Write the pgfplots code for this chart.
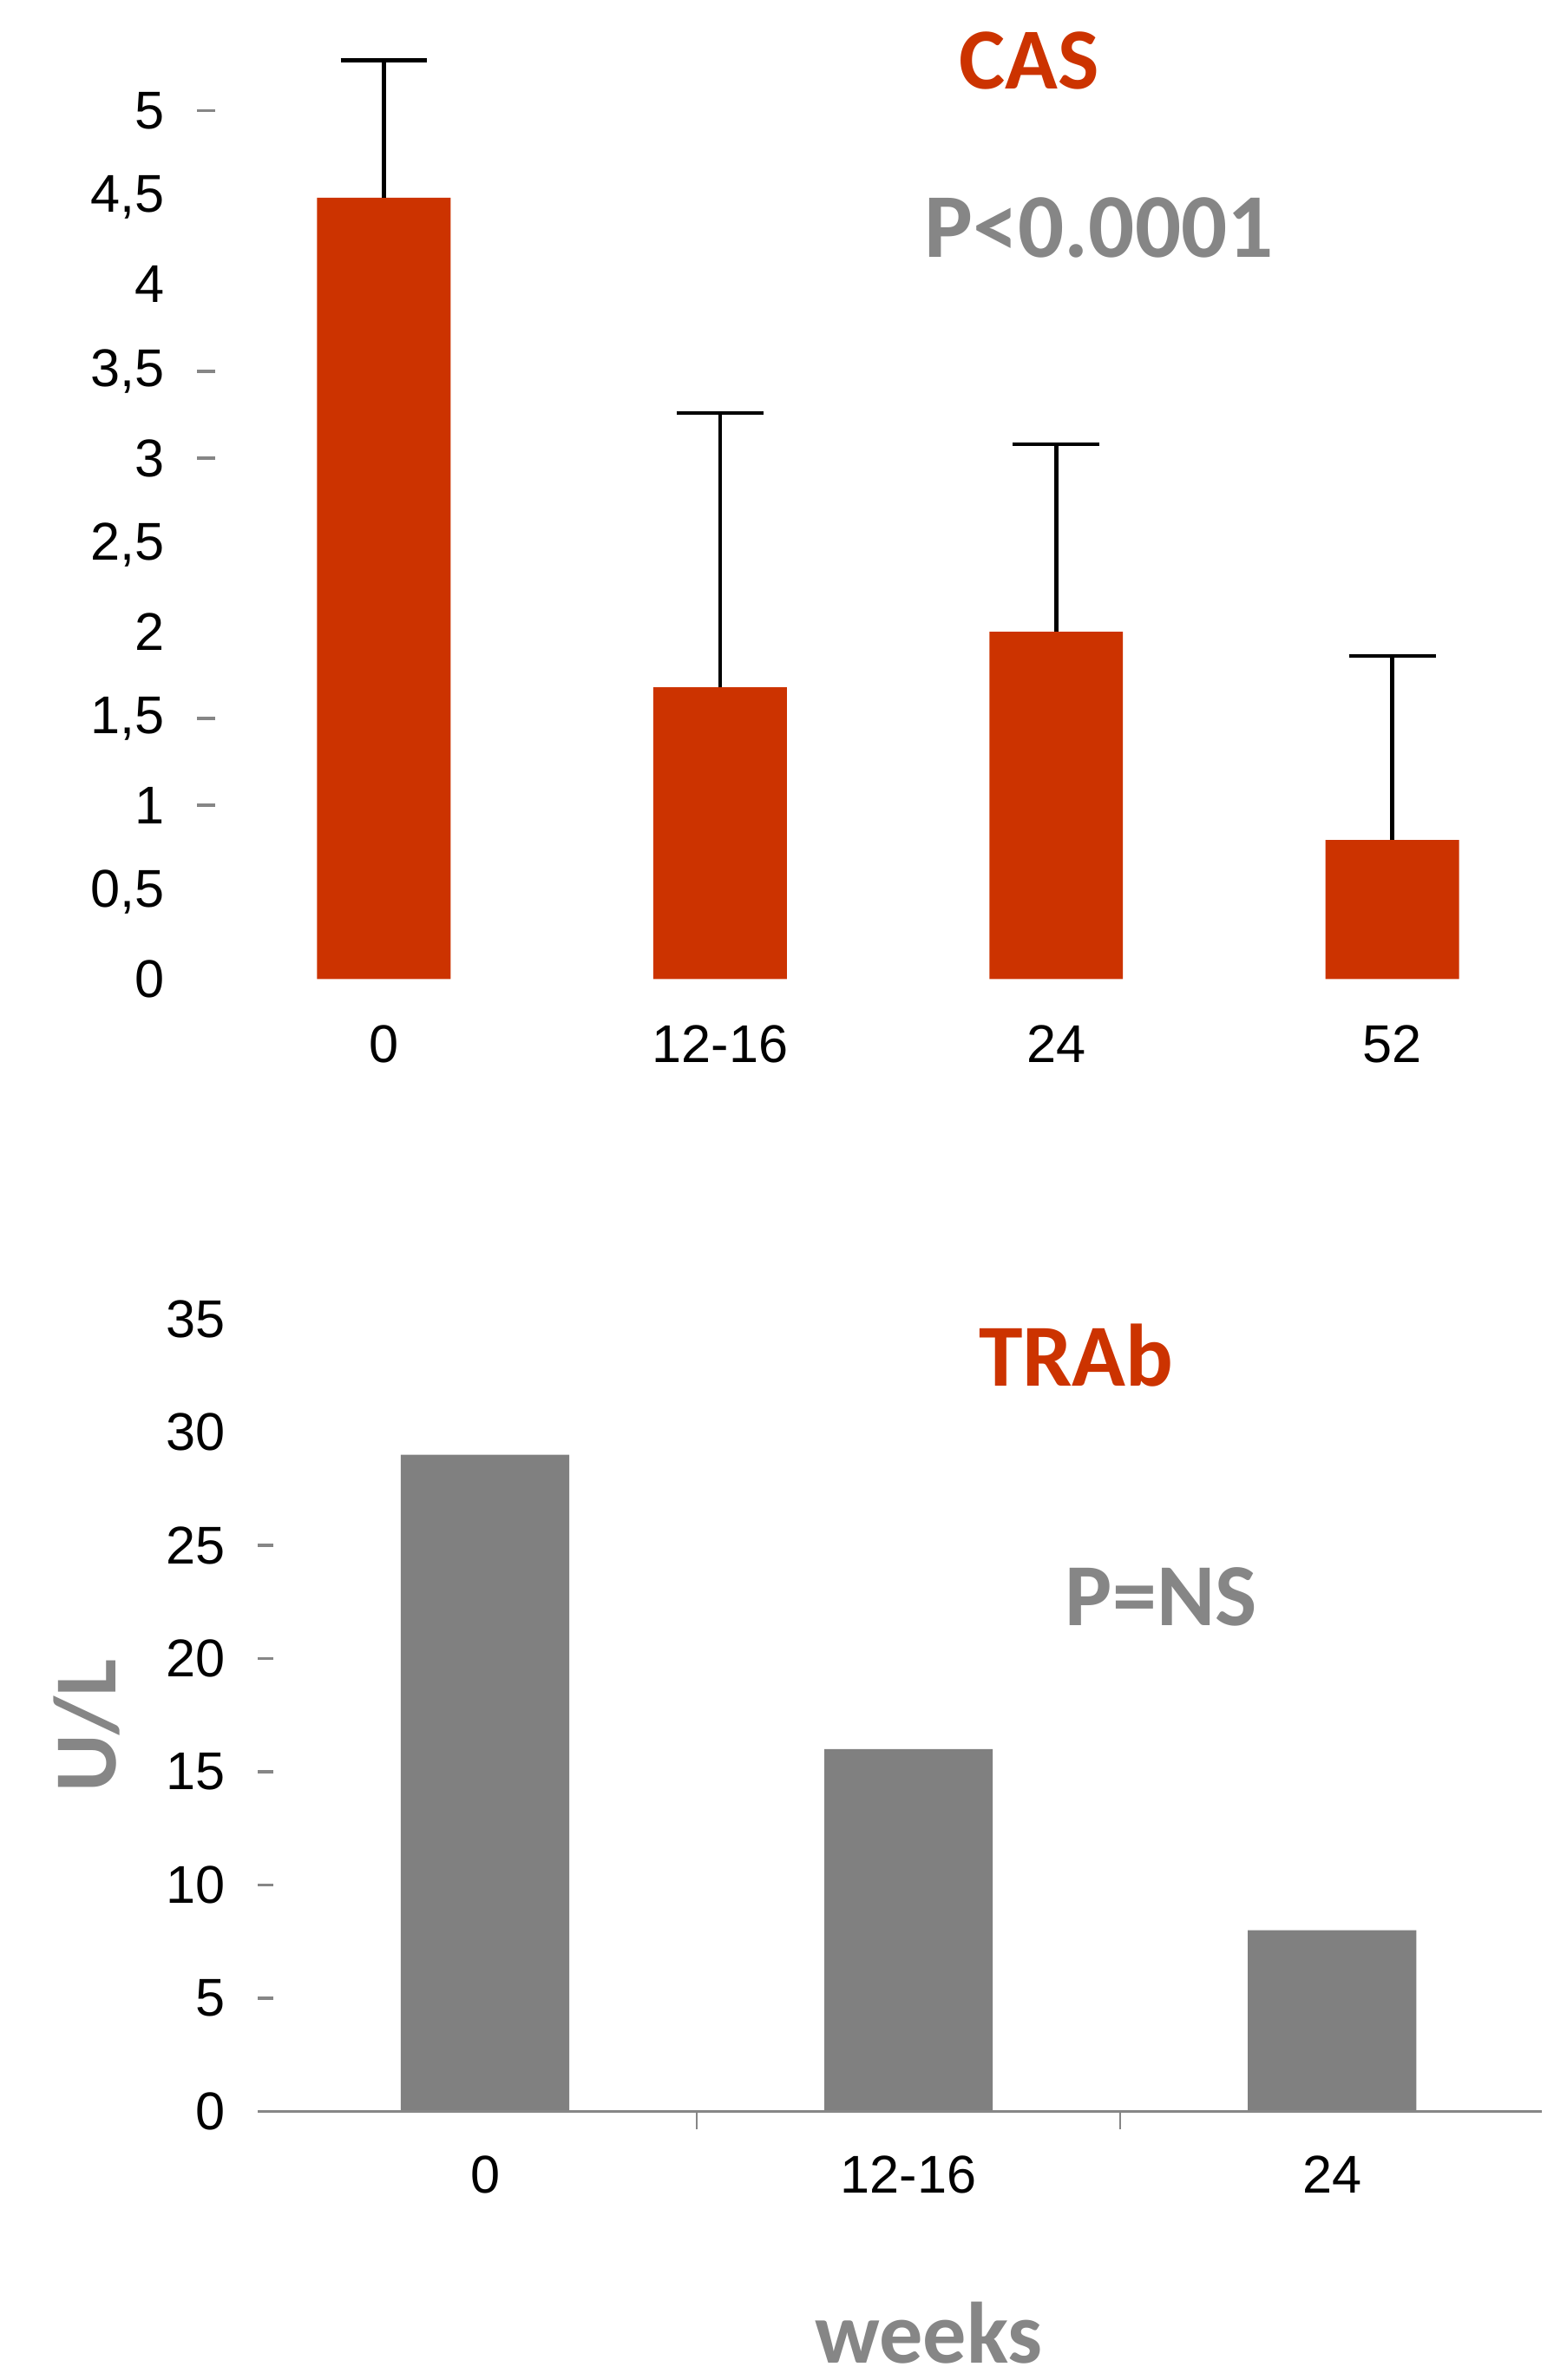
\documentclass[border=0pt]{standalone}
\usepackage{pgfplots}
\pgfplotsset{compat=1.18}
\usepackage{fontspec}
\setmainfont{Liberation Sans}
\newfontfamily\calfont{Carlito}
\definecolor{casred}{RGB}{204,51,0}
\definecolor{bargray}{RGB}{128,128,128}
\definecolor{txtgray}{RGB}{134,134,134}
\begin{document}
\begin{tikzpicture}
\path[use as bounding box] (0,0) rectangle (309.6pt,470.4pt);
% ---------- top: CAS ----------
\begin{axis}[
  at={(39pt,276.9pt)}, anchor=south west,
  scale only axis, width=269.4pt, height=188.76pt,
  xmin=-0.555, xmax=3.5, ymin=0, ymax=5.5,
  axis line style={draw=none},
  tick align=inside, major tick length=0pt,
  xtick pos=bottom, ytick pos=left,
  xtick={0,1,2,3}, xticklabels={0,12-16,24,52},
  ytick={0,0.5,1,1.5,2,2.5,3,3.5,4,4.5,5},
  yticklabels={0,{0,5},1,{1,5},2,{2,5},3,{3,5},4,{4,5},5},
  ticklabel style={font=\fontsize{10.5}{12}\selectfont, inner sep=0pt},
  yticklabel style={anchor=east, xshift=-6.3pt},
  xticklabel style={anchor=base, yshift=-16.5pt},
  extra y ticks={1,1.5,3,3.5,5}, extra y tick labels={},
  extra y tick style={major tick length=3.6pt, tick style={draw=txtgray, line width=0.6pt}},
  clip=false,
]
\addplot[ybar, bar width=26.4pt, fill=casred, draw=none,
  error bars/.cd, y dir=plus, y explicit,
  error bar style={draw=black, line width=0.8pt},
  error mark options={rotate=90, mark size=8.55pt, line width=0.8pt, draw=black}]
  coordinates {(0,4.5) +- (0,0.79) (1,1.68) +- (0,1.58) (2,2.0) +- (0,1.08) (3,0.8) +- (0,1.06)};
\end{axis}
% ---------- bottom: TRAb ----------
\begin{axis}[
  at={(51pt,53.1pt)}, anchor=south west,
  scale only axis, width=253.8pt, height=156.6pt,
  xmin=-0.536, xmax=2.496, ymin=0, ymax=35,
  axis line style={draw=none},
  tick align=inside, major tick length=0pt,
  xtick pos=bottom, ytick pos=left,
  xtick={0,1,2}, xticklabels={0,12-16,24},
  ytick={0,5,10,15,20,25,30,35},
  yticklabels={0,5,10,15,20,25,30,35},
  ticklabel style={font=\fontsize{10.5}{12}\selectfont, inner sep=0pt},
  yticklabel style={anchor=east, xshift=-6.3pt},
  xticklabel style={anchor=base, yshift=-16.2pt},
  extra y ticks={5,10,15,20,25}, extra y tick labels={},
  extra y tick style={major tick length=3pt, tick style={draw=txtgray, line width=0.6pt}},
  extra x ticks={0.5,1.5}, extra x tick labels={},
  extra x tick style={tick align=outside, major tick length=3.6pt, tick style={draw=txtgray, line width=0.4pt}},
  clip=false,
]
\addplot[ybar, bar width=33.3pt, fill=bargray, draw=none]
  coordinates {(0,29) (1,16) (2,8)};
\draw[txtgray, line width=0.5pt] (rel axis cs:0,0) -- (rel axis cs:1,0);
\end{axis}
% ---------- texts ----------
\node[font=\calfont\bfseries\fontsize{17.2}{20}\selectfont, text=casred] at (203.4pt,458.4pt) {CAS};
\node[font=\calfont\bfseries\fontsize{18}{21}\selectfont, text=txtgray] at (217.2pt,425.4pt) {P<0.0001};
\node[font=\calfont\bfseries\fontsize{17.5}{20}\selectfont, text=casred] at (212.7pt,202.5pt) {TRAb};
\node[font=\calfont\bfseries\fontsize{17.5}{20}\selectfont, text=txtgray] at (229.5pt,154.8pt) {P=NS};
\node[font=\calfont\bfseries\fontsize{17.5}{20}\selectfont, text=txtgray, rotate=90] at (17.1pt,129.3pt) {U/L};
\node[font=\calfont\bfseries\fontsize{17.2}{20}\selectfont, text=txtgray, anchor=base, inner sep=0pt] at (183.6pt,3.3pt) {weeks};
\end{tikzpicture}
\end{document}
